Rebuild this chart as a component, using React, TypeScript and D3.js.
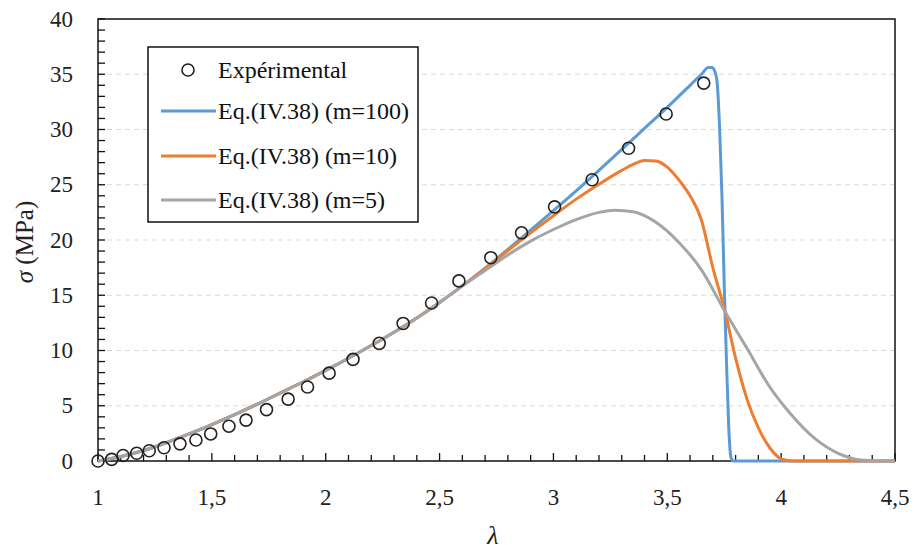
import React from "react";
import * as d3 from "d3";

const expLambda = [1.0, 1.06, 1.11, 1.17, 1.225, 1.29, 1.36, 1.43, 1.495, 1.575, 1.65, 1.74, 1.835, 1.92, 2.015, 2.12, 2.235, 2.34, 2.465, 2.585, 2.725, 2.86, 3.005, 3.17, 3.33, 3.495, 3.66];
const expSigma = [0.0, 0.15, 0.5, 0.7, 0.93, 1.2, 1.55, 1.9, 2.45, 3.15, 3.7, 4.65, 5.6, 6.7, 7.95, 9.2, 10.65, 12.45, 14.3, 16.3, 18.4, 20.65, 23.0, 25.45, 28.3, 31.4, 34.2];

const baseLambda = [1.0, 1.1, 1.2, 1.3, 1.4, 1.5, 1.6, 1.7, 1.8, 1.9, 2.0, 2.1, 2.2, 2.3, 2.4, 2.5, 2.6];
const baseSigma = [0.0, 0.4, 0.95, 1.65, 2.45, 3.3, 4.2, 5.15, 6.15, 7.15, 8.2, 9.3, 10.45, 11.65, 12.95, 14.35, 15.85];

const m100Lambda = [2.7, 2.8, 2.9, 3.0, 3.1, 3.2, 3.3, 3.4, 3.5, 3.6, 3.65, 3.68, 3.695, 3.71, 3.72, 3.73, 3.74, 3.75, 3.76, 3.77, 3.78, 3.79, 4.5];
const m100Sigma = [17.45, 19.15, 20.9, 22.65, 24.45, 26.3, 28.2, 30.1, 32.0, 34.0, 35.0, 35.6, 35.6, 35.2, 34.0, 30.0, 24.0, 16.0, 9.0, 3.0, 0.3, 0.0, 0.0];

const m10Lambda = [2.7, 2.8, 2.9, 3.0, 3.1, 3.2, 3.3, 3.35, 3.4, 3.45, 3.5, 3.556, 3.6, 3.65, 3.7, 3.754, 3.8, 3.85, 3.9, 3.95, 4.0, 4.05, 4.5];
const m10Sigma = [17.4, 19.05, 20.65, 22.2, 23.7, 25.05, 26.3, 26.85, 27.2, 27.15, 26.6, 25.3, 24.0, 21.8, 17.5, 13.5, 9.3, 5.6, 3.0, 1.2, 0.2, 0.0, 0.0];

const m5Lambda = [2.7, 2.8, 2.9, 3.0, 3.1, 3.2, 3.27, 3.35, 3.45, 3.55, 3.65, 3.754, 3.85, 3.95, 4.04, 4.15, 4.25, 4.35, 4.45, 4.5];
const m5Sigma = [17.25, 18.65, 19.9, 20.95, 21.85, 22.5, 22.7, 22.55, 21.6, 19.8, 17.3, 13.5, 10.2, 6.7, 4.3, 2.0, 0.7, 0.1, 0.0, 0.0];

const xTicks = [1, 1.5, 2, 2.5, 3, 3.5, 4, 4.5];
const xTickLabels = ["1", "1,5", "2", "2,5", "3", "3,5", "4", "4,5"];
const yTicks = [0, 5, 10, 15, 20, 25, 30, 35, 40];

const seriesNames = ["Expérimental", "Eq.(IV.38) (m=100)", "Eq.(IV.38) (m=10)", "Eq.(IV.38) (m=5)"];
const seriesColors = ["#222222", "#5B9BD5", "#ED7D31", "#A5A5A5"];

const W = 914;
const H = 550;
const L = 98, R = 895, T = 19, B = 461;
const FONT = "'Liberation Serif', 'Times New Roman', serif";

export default function App() {
  const x = d3.scaleLinear().domain([1, 4.5]).range([L, R]);
  const y = d3.scaleLinear().domain([0, 40]).range([B, T]);

  const mk = (lx: number[], ly: number[]) =>
    d3
      .line<number>()
      .x((_, i) => x(lx[i]))
      .y((_, i) => y(ly[i]))
      .curve(d3.curveMonotoneX)(lx) as string;

  const curves = [
    { lx: baseLambda.concat(m100Lambda), ly: baseSigma.concat(m100Sigma), c: seriesColors[1] },
    { lx: baseLambda.concat(m10Lambda), ly: baseSigma.concat(m10Sigma), c: seriesColors[2] },
    { lx: baseLambda.concat(m5Lambda), ly: baseSigma.concat(m5Sigma), c: seriesColors[3] },
  ];

  const minorX = d3.range(0, 36).map((i) => 1 + i * 0.1);
  const minorY = d3.range(0, 41);

  const legX = 148, legY = 47, legW = 270, legH = 175;
  const rowY = [70, 111, 156, 200];

  return (
    <svg width={W} height={H} style={{ position: "absolute", left: 0, top: 0, background: "#fff" }} fontFamily={FONT}>
      <rect x={0} y={0} width={W} height={H} fill="#fff" />
      {yTicks.filter((t) => t > 0 && t < 40).map((t) => (
        <line key={"g" + t} x1={L} x2={R} y1={y(t)} y2={y(t)} stroke="#d9d9d9" strokeWidth={1.2} strokeDasharray="5,4" />
      ))}
      {minorY.map((t) => (
        <line key={"my" + t} x1={L} x2={L + 7} y1={y(t)} y2={y(t)} stroke="#111" strokeWidth={1.3} />
      ))}
      {minorX.map((t, i) => (
        <line key={"mx" + i} x1={x(t)} x2={x(t)} y1={B} y2={B - (i % 5 === 0 ? 8 : 6)} stroke="#111" strokeWidth={1.3} />
      ))}
      <rect x={L} y={T} width={R - L} height={B - T} fill="none" stroke="#111" strokeWidth={1.5} />
      {curves.map((c, i) => (
        <path key={"c" + i} d={mk(c.lx, c.ly)} fill="none" stroke={c.c} strokeWidth={3} strokeLinejoin="round" />
      ))}
      {expLambda.map((l, i) => (
        <circle key={"p" + i} cx={x(l)} cy={y(expSigma[i])} r={6} fill="none" stroke={seriesColors[0]} strokeWidth={1.6} />
      ))}
      {yTicks.map((t) => (
        <text key={"yl" + t} x={73} y={y(t)} textAnchor="end" dominantBaseline="central" fontSize={23} fill="#222">
          {t}
        </text>
      ))}
      {xTicks.map((t, i) => (
        <text key={"xl" + t} x={x(t)} y={497} textAnchor="middle" dominantBaseline="central" fontSize={23} fill="#222">
          {xTickLabels[i]}
        </text>
      ))}
      <text transform={`translate(24,242) rotate(-90)`} textAnchor="middle" dominantBaseline="central" fontSize={25} fill="#222">
        <tspan fontStyle="italic">σ</tspan> (MPa)
      </text>
      <text x={493} y={535} textAnchor="middle" dominantBaseline="central" fontSize={26} fontStyle="italic" fill="#222">
        λ
      </text>
      <rect x={legX} y={legY} width={legW} height={legH} fill="#fff" stroke="#111" strokeWidth={1.5} />
      <circle cx={188} cy={rowY[0]} r={6} fill="none" stroke={seriesColors[0]} strokeWidth={1.6} />
      {[1, 2, 3].map((k) => (
        <line key={"ll" + k} x1={161} x2={216} y1={rowY[k]} y2={rowY[k]} stroke={seriesColors[k]} strokeWidth={3} />
      ))}
      {seriesNames.map((n, k) => (
        <text key={"lt" + k} x={218} y={rowY[k]} dominantBaseline="central" fontSize={24} fill="#111">
          {n}
        </text>
      ))}
    </svg>
  );
}
